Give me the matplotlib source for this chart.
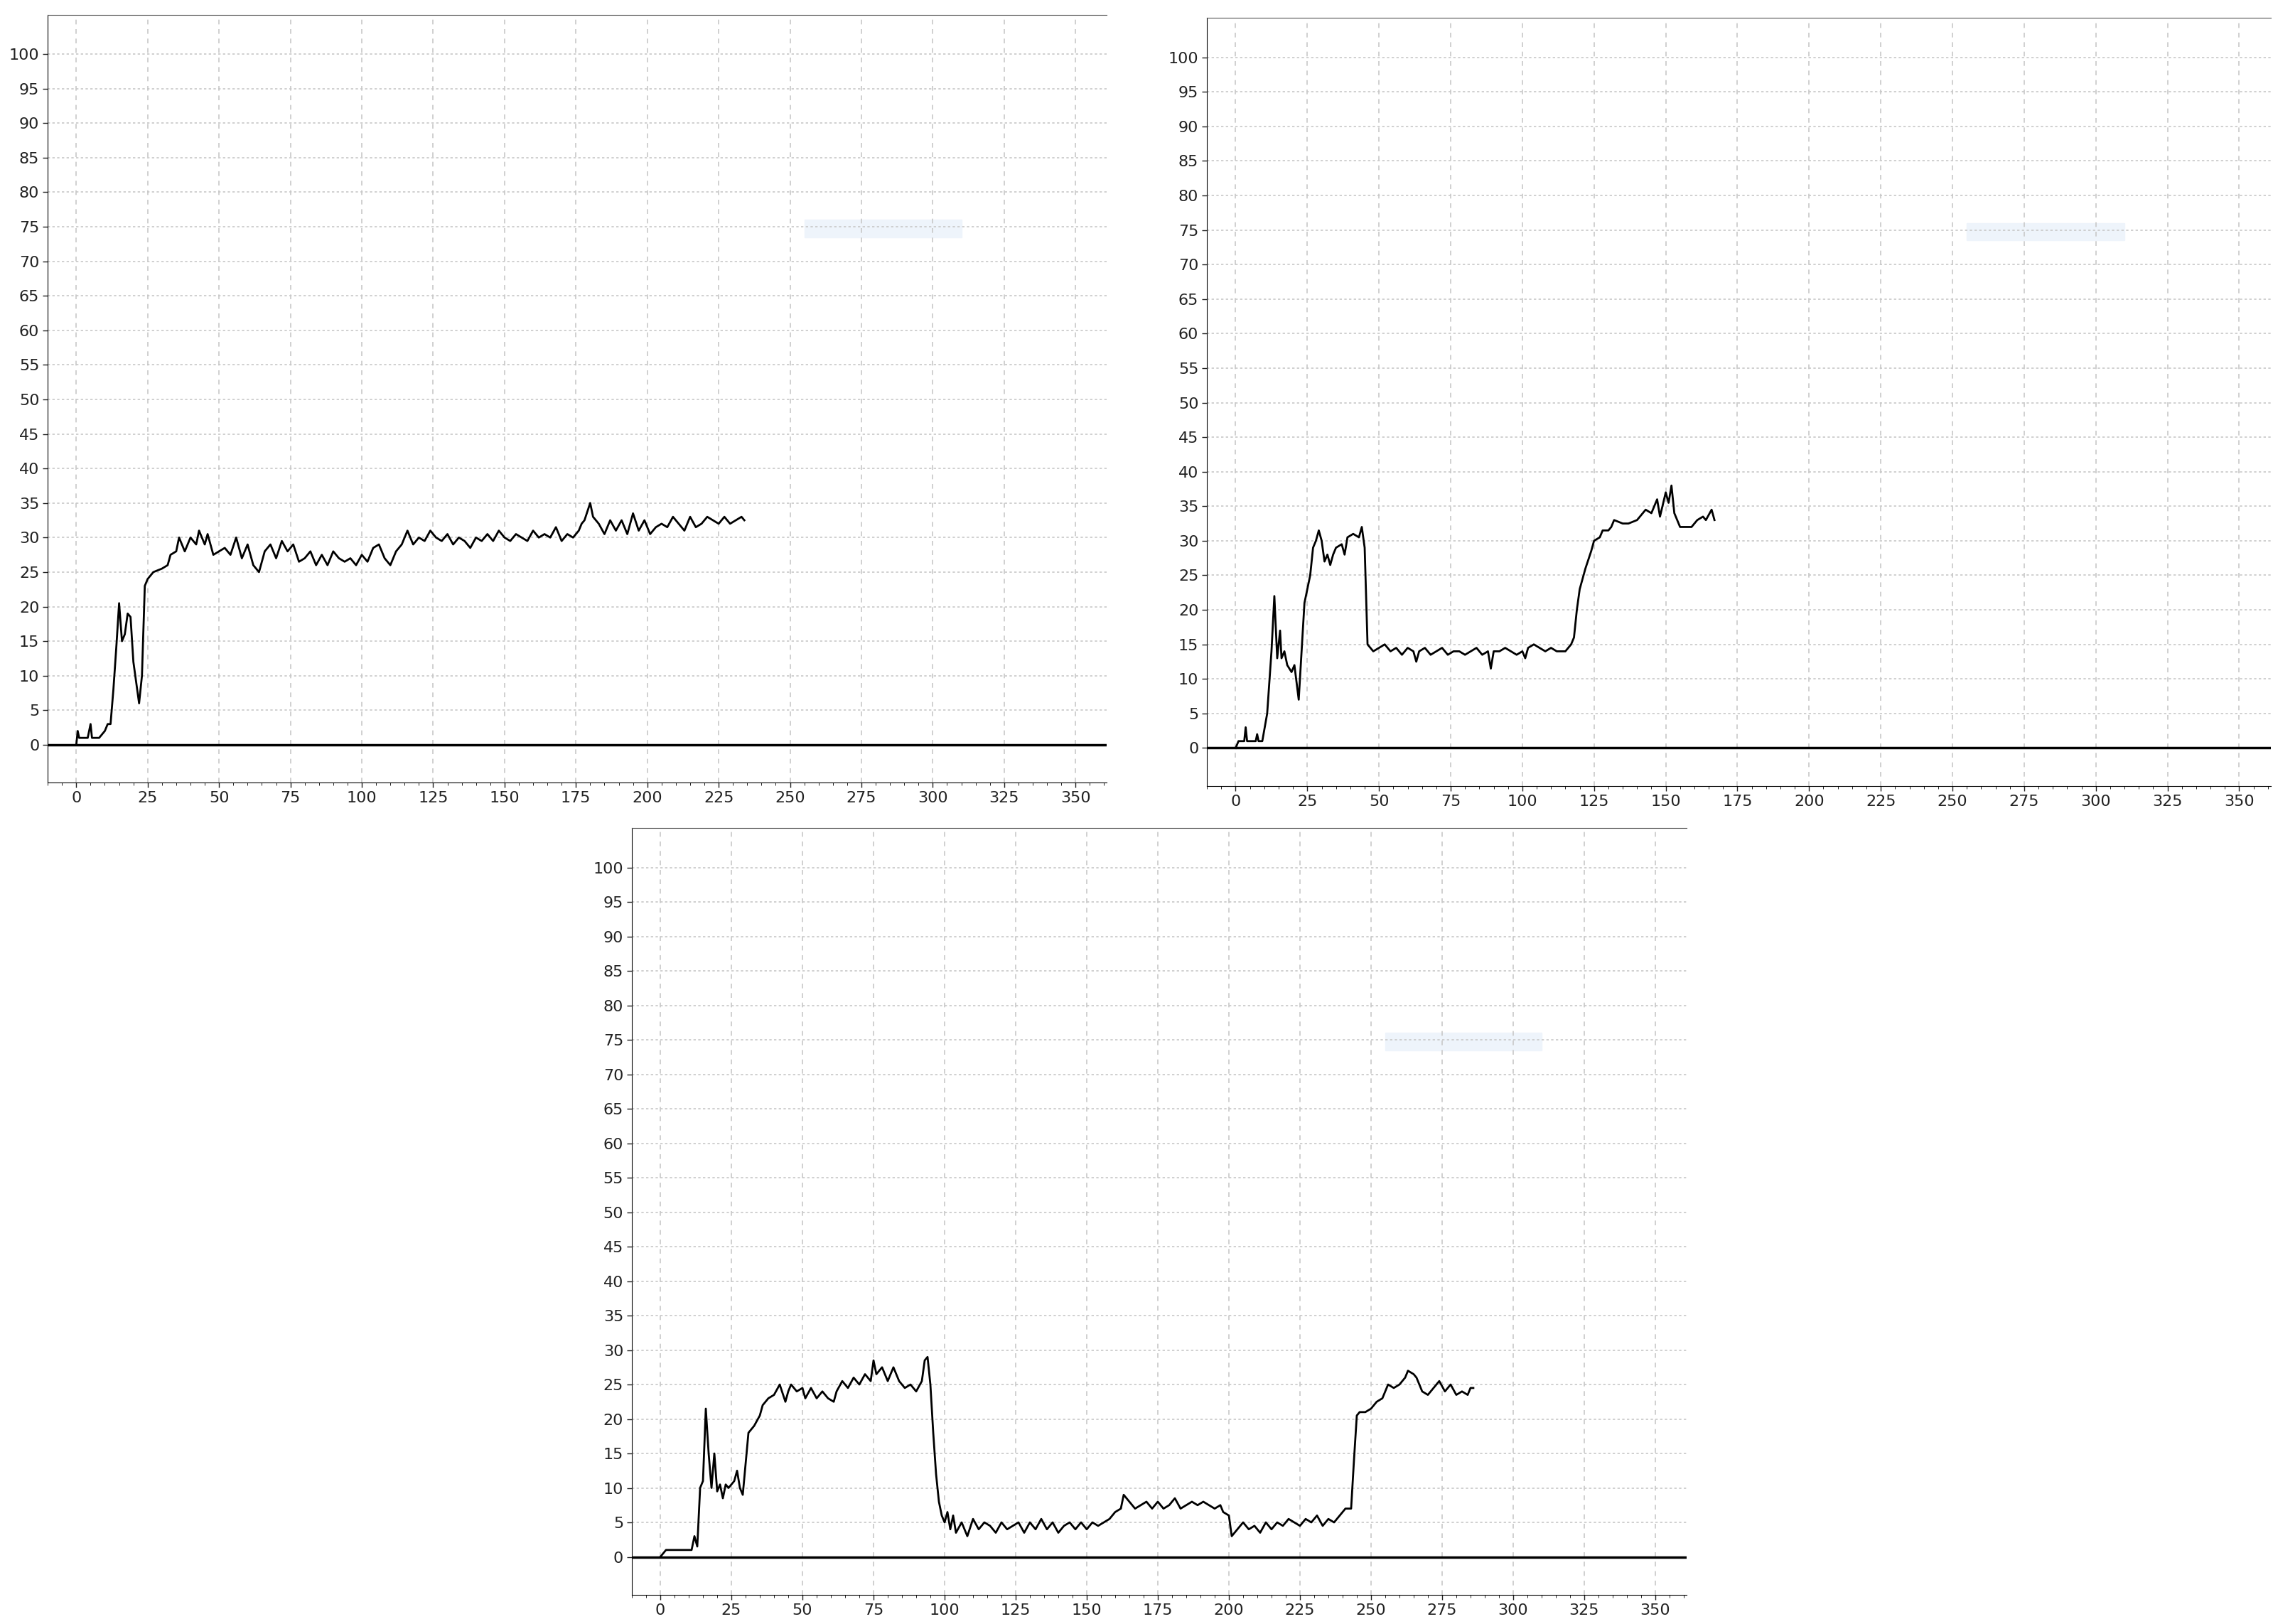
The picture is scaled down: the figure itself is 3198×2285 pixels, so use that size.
import matplotlib
matplotlib.use("Agg")
import matplotlib.pyplot as plt
from matplotlib.ticker import MultipleLocator
from matplotlib.patches import Rectangle

# series: (time, value)
s1_x = [0, 0.5, 1, 4, 5, 5.5, 8, 10, 11, 12, 13, 14, 15, 16, 17, 18, 19, 20, 21, 22, 23, 24, 25, 27, 30, 32, 33, 35, 36, 38,
        40, 42, 43, 45, 46, 48, 50, 52, 54, 56, 58, 60, 62, 64, 66, 68, 70, 72, 74, 76, 78, 80, 82, 84, 86, 88, 90, 92, 94, 96,
        98, 100, 102, 104, 106, 108, 110, 112, 114, 116, 118, 120, 122, 124, 126, 128, 130, 132, 134, 136, 138, 140, 142, 144,
        146, 148, 150, 152, 154, 156, 158, 160, 162, 164, 166, 168, 170, 172, 174, 176, 177, 178, 180, 181, 183, 185, 187, 189,
        191, 193, 195, 197, 199, 201, 203, 205, 207, 209, 211, 213, 215, 217, 219, 221, 223, 225, 227, 229, 231, 233, 234]
s1_y = [0, 2, 1, 1, 3, 1, 1, 2, 3, 3, 8, 14, 20.5, 15, 16, 19, 18.5, 12, 9, 6, 10, 23, 24, 25, 25.5, 26, 27.5, 28, 30, 28,
        30, 29, 31, 29, 30.5, 27.5, 28, 28.5, 27.5, 30, 27, 29, 26, 25, 28, 29, 27, 29.5, 28, 29, 26.5, 27, 28, 26, 27.5, 26, 28, 27, 26.5, 27,
        26, 27.5, 26.5, 28.5, 29, 27, 26, 28, 29, 31, 29, 30, 29.5, 31, 30, 29.5, 30.5, 29, 30, 29.5, 28.5, 30, 29.5, 30.5,
        29.5, 31, 30, 29.5, 30.5, 30, 29.5, 31, 30, 30.5, 30, 31.5, 29.5, 30.5, 30, 31, 32, 32.5, 35, 33, 32, 30.5, 32.5, 31,
        32.5, 30.5, 33.5, 31, 32.5, 30.5, 31.5, 32, 31.5, 33, 32, 31, 33, 31.5, 32, 33, 32.5, 32, 33, 32, 32.5, 33, 32.5]

s2_x = [0, 1, 3, 3.5, 4, 7, 7.5, 8, 9.3, 11, 12.5, 13.5, 14.5, 15.5, 16, 17, 18, 19.5, 20.5, 22, 23, 24, 25, 26, 27, 28, 29, 30,
        31, 32, 33, 34, 35, 37, 38, 39, 41, 43, 44, 45, 46, 47, 48, 50, 52, 54, 56, 58, 60, 62, 63, 64, 66, 68, 70, 72, 74, 76,
        78, 80, 82, 84, 86, 88, 89, 90, 92, 94, 96, 98, 100, 101, 102, 104, 106, 108, 110, 112, 115, 117, 118, 119, 120, 122,
        124, 125, 127, 128, 130, 131, 132, 135, 137, 140, 143, 145, 147, 148, 150, 151, 152, 153, 155, 157, 159, 161, 163, 164, 166, 167]
s2_y = [0, 1, 1, 3, 1, 1, 2, 1, 1, 5, 14, 22, 13, 17, 13, 14, 12, 11, 12, 7, 14, 21, 23, 25, 29, 30, 31.5, 30,
        27, 28, 26.5, 28, 29, 29.5, 28, 30.5, 31, 30.5, 32, 29, 15, 14.5, 14, 14.5, 15, 14, 14.5, 13.5, 14.5, 14, 12.5, 14, 14.5, 13.5, 14, 14.5, 13.5, 14,
        14, 13.5, 14, 14.5, 13.5, 14, 11.5, 14, 14, 14.5, 14, 13.5, 14, 13, 14.5, 15, 14.5, 14, 14.5, 14, 14, 15, 16, 20, 23, 26,
        28.5, 30, 30.5, 31.5, 31.5, 32, 33, 32.5, 32.5, 33, 34.5, 34, 36, 33.5, 37, 35.5, 38, 34, 32, 32, 32, 33, 33.5, 33, 34.5, 33]

s3_x = [0, 2, 5, 11, 12, 13, 14, 15, 16, 17, 18, 19, 20, 21, 22, 23, 24, 26, 27, 28, 29, 31, 33, 35, 36, 38, 40, 42, 44, 45,
        46, 48, 50, 51, 53, 55, 57, 59, 61, 62, 64, 66, 68, 70, 72, 74, 75, 76, 78, 80, 82, 84, 86, 88, 90, 92, 93, 94, 95, 96,
        97, 98, 99, 100, 101, 102, 103, 104, 106, 108, 110, 112, 114, 116, 118, 120, 122, 124, 126, 128, 130, 132, 134, 136,
        138, 140, 142, 144, 146, 148, 150, 152, 154, 156, 158, 160, 162, 163, 165, 167, 169, 171, 173, 175, 177, 179, 181, 183,
        185, 187, 189, 191, 193, 195, 197, 198, 200, 201, 203, 205, 207, 209, 211, 213, 215, 217, 219, 221, 223, 225, 227, 229,
        231, 233, 235, 237, 239, 241, 243, 244, 245, 246, 248, 250, 252, 254, 256, 258, 260, 262, 263, 265, 266, 268, 270, 272,
        274, 276, 278, 280, 282, 284, 285, 286]
s3_y = [0, 1, 1, 1, 3, 1.5, 10, 11, 21.5, 15, 10, 15, 9.5, 10.5, 8.5, 10.5, 10, 11, 12.5, 10, 9, 18, 19, 20.5, 22, 23, 23.5, 25, 22.5, 24,
        25, 24, 24.5, 23, 24.5, 23, 24, 23, 22.5, 24, 25.5, 24.5, 26, 25, 26.5, 25.5, 28.5, 26.5, 27.5, 25.5, 27.5, 25.5, 24.5, 25, 24, 25.5, 28.5, 29, 25, 18,
        12, 8, 6, 5, 6.5, 4, 6, 3.5, 5, 3, 5.5, 4, 5, 4.5, 3.5, 5, 4, 4.5, 5, 3.5, 5, 4, 5.5, 4,
        5, 3.5, 4.5, 5, 4, 5, 4, 5, 4.5, 5, 5.5, 6.5, 7, 9, 8, 7, 7.5, 8, 7, 8, 7, 7.5, 8.5, 7,
        7.5, 8, 7.5, 8, 7.5, 7, 7.5, 6.5, 6, 3, 4, 5, 4, 4.5, 3.5, 5, 4, 5, 4.5, 5.5, 5, 4.5, 5.5, 5,
        6, 4.5, 5.5, 5, 6, 7, 7, 14, 20.5, 21, 21, 21.5, 22.5, 23, 25, 24.5, 25, 26, 27, 26.5, 26, 24, 23.5, 24.5,
        25.5, 24, 25, 23.5, 24, 23.5, 24.5, 24.5]

fig = plt.figure(figsize=(31.98, 22.85), dpi=100)
panels = [
    ([0.021, 0.518, 0.466, 0.473], s1_x, s1_y),
    ([0.531, 0.516, 0.468, 0.473], s2_x, s2_y),
    ([0.278, 0.018, 0.464, 0.472], s3_x, s3_y),
]

for rect, xs, ys in panels:
    ax = fig.add_axes(rect)
    ax.set_xlim(-10, 361)
    ax.set_ylim(-5.5, 105.7)
    ax.xaxis.set_major_locator(MultipleLocator(25))
    ax.xaxis.set_minor_locator(MultipleLocator(5))
    ax.yaxis.set_major_locator(MultipleLocator(5))
    ax.set_xticks(range(0, 351, 25))
    ax.set_yticks(range(0, 101, 5))
    ax.tick_params(labelsize=16, length=5, width=1, colors="#222222")
    ax.tick_params(which="minor", length=3)
    ax.grid(axis="x", color="#c8c8c8", linestyle=(0, (4, 4)), linewidth=1.2)
    ax.grid(axis="y", color="#c8c8c8", linestyle=(0, (2, 2)), linewidth=1.2)
    ax.set_axisbelow(True)
    for side in ["right"]:
        ax.spines[side].set_visible(False)
    ax.spines["top"].set_color("#555555")
    ax.axhline(0, color="black", linewidth=2.5)
    # faint watermark-like patch
    ax.add_patch(Rectangle((255, 73.5), 55, 2.5, color="#eef4fb", zorder=0))
    ax.plot(xs, ys, color="black", linewidth=2)

fig.savefig("out.png", dpi=100)
